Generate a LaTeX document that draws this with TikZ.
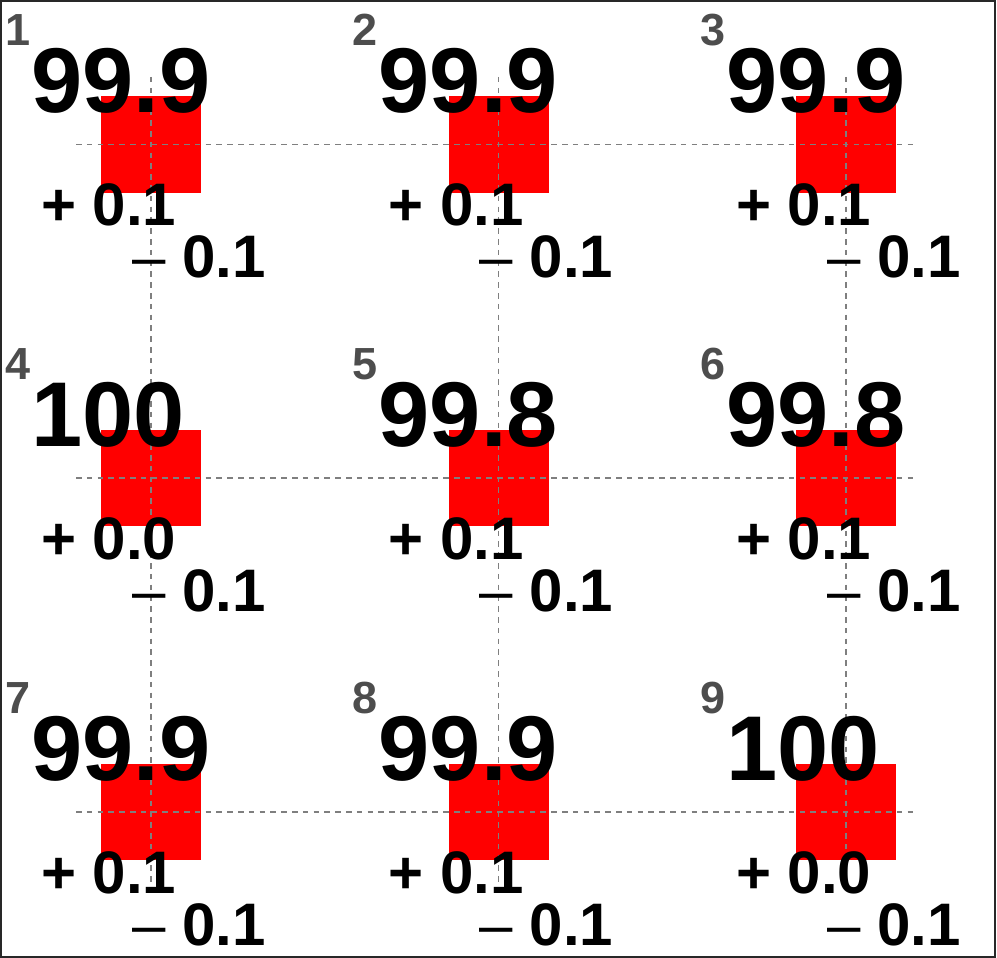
\documentclass[tikz,border=0pt]{standalone}
\usepackage{fontspec}
\setmainfont{Liberation Sans}
\definecolor{labgray}{RGB}{77,77,77}
\definecolor{gridgray}{RGB}{127,127,127}
\definecolor{framegray}{RGB}{40,40,40}
\begin{document}
\begin{tikzpicture}[x=1pt,y=-1pt,
  bigtxt/.style={anchor=base west,inner sep=0pt,font=\fontsize{92}{92}\selectfont\bfseries},
  smalltxt/.style={anchor=base west,inner sep=0pt,font=\fontsize{60}{60}\selectfont\bfseries},
  labtxt/.style={anchor=base west,inner sep=0pt,text=labgray,font=\fontsize{45}{45}\selectfont\bfseries},
  redbox/.style={fill=red,draw=none},
  gridline/.style={draw=gridgray,line width=1.2pt,dash pattern=on 5.5pt off 5.3pt},
  framebox/.style={draw=framegray,line width=2pt}]
\useasboundingbox (0,0) rectangle (997,958);
\def\celllist{1/151/144.5/99.9/0.1, 2/498.5/144.5/99.9/0.1, 3/846/144.5/99.9/0.1,
  4/151/478/100/0.0, 5/498.5/478/99.8/0.1, 6/846/478/99.8/0.1,
  7/151/812/99.9/0.1, 8/498.5/812/99.9/0.1, 9/846/812/100/0.0}
% red squares
\foreach \n/\cx/\cy/\big/\plus in \celllist {
  \fill[redbox] (\cx-50,\cy-48) rectangle (\cx+50,\cy+48);
}
% dashed grid
\foreach \y in {144.5,478,812} {
  \draw[gridline] (76,\y) -- (915,\y);
}
\foreach \x in {151,498.5,846} {
  \draw[gridline] (\x,77) -- (\x,884);
}
% texts
\foreach \n/\cx/\cy/\big/\plus in \celllist {
  \node[labtxt] (lab\n) at (\cx-146,\cy-99) {\n};
  \node[bigtxt] (big\n) at (\cx-120,\cy-32) {\big};
  \node[smalltxt] (plus\n) at (\cx-110,\cy+81) {+ \plus};
  \node[smalltxt] (minus\n) at (\cx-19,\cy+133) {{\mdseries –} 0.1};
}
% frame
\draw[framebox] (1,1) rectangle (994.5,956.5);
\end{tikzpicture}
\end{document}
